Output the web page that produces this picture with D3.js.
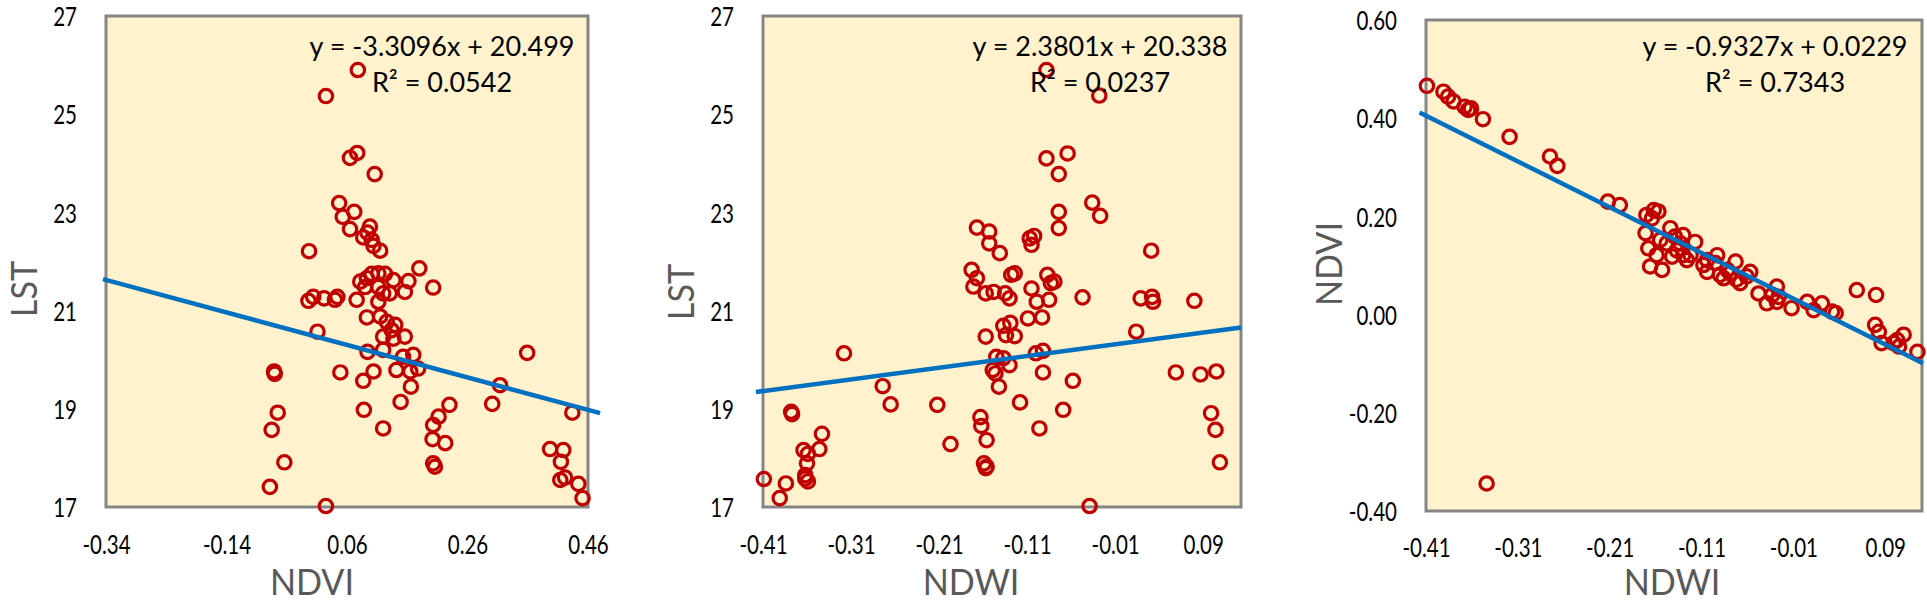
<!DOCTYPE html>
<html>
<head>
<meta charset="utf-8">
<script src="https://cdn.jsdelivr.net/npm/d3@7"></script>
<style>
  body { margin: 0; background: #fff; }
  svg { display: block; font-family: Lato, "Open Sans", sans-serif; }
</style>
</head>
<body>
<svg id="chart" width="1927" height="608"></svg>
<script>
// tick labels
const ndviTicks = [-0.34, -0.14, 0.06, 0.26, 0.46];
const ndwiTicks = [-0.41, -0.31, -0.21, -0.11, -0.01, 0.09];
const lstTicks = [17, 19, 21, 23, 25, 27];
const ndviYTicks = [-0.40, -0.20, 0.00, 0.20, 0.40, 0.60];

// [NDVI, LST]
const ndviLst = [
  [0.078, 25.90], [0.025, 25.37], [0.065, 24.11], [0.077, 24.21], [0.106, 23.78],
  [0.047, 23.19], [0.072, 23.01], [0.053, 22.91], [0.065, 22.66], [0.098, 22.71],
  [0.087, 22.49], [0.094, 22.59], [0.101, 22.44], [0.104, 22.32], [0.115, 22.22],
  [-0.003, 22.21], [0.180, 21.86], [0.203, 21.47], [0.082, 21.59], [0.093, 21.66],
  [0.101, 21.75], [0.112, 21.76], [0.123, 21.75], [0.137, 21.62], [0.162, 21.60],
  [0.156, 21.38], [0.090, 21.48], [0.112, 21.48], [0.120, 21.35], [0.131, 21.35],
  [0.112, 21.18], [0.076, 21.22], [-0.004, 21.20], [0.004, 21.28], [0.022, 21.25],
  [0.040, 21.22], [0.044, 21.28], [0.093, 20.86], [0.115, 20.88], [0.126, 20.77],
  [0.140, 20.71], [0.134, 20.60], [0.120, 20.47], [0.137, 20.43], [0.156, 20.47],
  [0.011, 20.57], [0.094, 20.16], [0.120, 20.20], [0.153, 20.06], [0.170, 20.10],
  [0.178, 19.82], [0.165, 19.76], [0.142, 19.79], [0.166, 19.45], [-0.061, 19.76],
  [-0.060, 19.71], [0.049, 19.74], [0.104, 19.76], [0.087, 19.57], [0.301, 19.10],
  [0.314, 19.48], [0.149, 19.14], [0.230, 19.08], [0.088, 18.98], [-0.055, 18.92],
  [-0.065, 18.57], [0.120, 18.60], [0.212, 18.84], [0.203, 18.67], [0.202, 18.38],
  [0.223, 18.30], [0.203, 17.89], [0.206, 17.82], [-0.044, 17.91], [-0.068, 17.41],
  [0.025, 17.02], [0.434, 18.92], [0.397, 18.18], [0.419, 18.16], [0.415, 17.92],
  [0.414, 17.55], [0.422, 17.60], [0.444, 17.47], [0.451, 17.18], [0.359, 20.14]
];

// [NDWI, LST]
const ndwiLst = [
  [-0.409, 17.57], [-0.391, 17.18], [-0.384, 17.48], [-0.378, 18.94], [-0.377, 18.89],
  [-0.364, 18.16], [-0.359, 18.08], [-0.360, 17.89], [-0.362, 17.65], [-0.359, 17.52],
  [-0.362, 17.58], [-0.346, 18.18], [-0.343, 18.49], [-0.318, 20.13], [-0.274, 19.46],
  [-0.265, 19.09], [-0.212, 19.08], [-0.197, 18.28], [-0.163, 18.83], [-0.162, 18.65],
  [-0.156, 18.36], [-0.159, 17.89], [-0.156, 17.82], [-0.157, 17.79], [-0.142, 19.45],
  [-0.157, 20.47], [-0.145, 20.06], [-0.137, 20.03], [-0.149, 19.79], [-0.146, 19.72],
  [-0.130, 19.89], [-0.137, 20.69], [-0.129, 20.75], [-0.134, 20.50], [-0.124, 20.48],
  [-0.109, 20.84], [-0.093, 20.86], [-0.100, 20.13], [-0.092, 20.18], [-0.092, 19.74],
  [-0.118, 19.13], [-0.096, 18.60], [-0.058, 19.57], [-0.069, 18.98], [-0.039, 17.02],
  [-0.047, 21.27], [0.014, 20.57], [0.019, 21.25], [0.032, 21.28], [0.033, 21.18],
  [0.080, 21.20], [0.059, 19.74], [0.087, 19.70], [0.105, 19.76], [0.099, 18.91],
  [0.104, 18.57], [0.109, 17.91], [-0.173, 21.83], [-0.167, 21.66], [-0.171, 21.49],
  [-0.157, 21.35], [-0.148, 21.38], [-0.135, 21.35], [-0.130, 21.25], [-0.128, 21.73],
  [-0.124, 21.76], [-0.105, 21.45], [-0.099, 21.18], [-0.085, 21.22], [-0.087, 21.73],
  [-0.079, 21.59], [-0.083, 21.56], [-0.088, 25.90], [-0.028, 25.38], [-0.088, 24.10],
  [-0.064, 24.20], [-0.074, 23.78], [-0.036, 23.20], [-0.027, 22.93], [-0.074, 23.01],
  [-0.074, 22.68], [0.031, 22.22], [-0.167, 22.69], [-0.153, 22.61], [-0.153, 22.37],
  [-0.141, 22.17], [-0.107, 22.47], [-0.102, 22.52], [-0.105, 22.34]
];

// [NDWI, NDVI]
const ndwiNdvi = [
  [-0.409, 0.466], [-0.391, 0.454], [-0.386, 0.444], [-0.380, 0.434], [-0.368, 0.423],
  [-0.364, 0.417], [-0.361, 0.420], [-0.348, 0.398], [-0.319, 0.362], [-0.275, 0.322],
  [-0.267, 0.303], [-0.212, 0.230], [-0.199, 0.223], [-0.344, -0.344],
  [-0.170, 0.203], [-0.162, 0.213], [-0.157, 0.210], [-0.164, 0.196], [-0.171, 0.166],
  [-0.168, 0.135], [-0.166, 0.098], [-0.153, 0.091], [-0.159, 0.121], [-0.144, 0.176],
  [-0.139, 0.159], [-0.130, 0.162], [-0.117, 0.148], [-0.148, 0.145], [-0.137, 0.131],
  [-0.130, 0.121], [-0.126, 0.111], [-0.142, 0.118], [-0.155, 0.152], [-0.133, 0.145],
  [-0.122, 0.121], [-0.104, 0.111], [-0.108, 0.101], [-0.104, 0.087], [-0.093, 0.121],
  [-0.090, 0.081], [-0.095, 0.105], [-0.082, 0.091], [-0.079, 0.084], [-0.073, 0.108],
  [-0.072, 0.071], [-0.068, 0.064], [-0.061, 0.078], [-0.057, 0.087], [-0.086, 0.074],
  [-0.048, 0.043], [-0.039, 0.023], [-0.028, 0.057], [-0.028, 0.026], [-0.033, 0.040],
  [-0.026, 0.036], [-0.012, 0.013], [0.005, 0.026], [0.012, 0.009], [0.021, 0.023],
  [0.032, 0.006], [0.036, 0.003], [0.059, 0.050], [0.080, 0.040], [0.079, -0.021],
  [0.083, -0.035], [0.086, -0.058], [0.099, -0.058], [0.103, -0.052], [0.110, -0.041],
  [0.105, -0.065], [0.125, -0.076]
];

// trend lines: slope, intercept, labels, x extent of the drawn line
const trendSlopes = [-3.3096, 2.3801, -0.9327];
const trendIntercepts = [20.499, 20.338, 0.0229];
const trendEquations = ['y = -3.3096x + 20.499', 'y = 2.3801x + 20.338', 'y = -0.9327x + 0.0229'];
const trendR2 = ['R\u00B2 = 0.0542', 'R\u00B2 = 0.0237', 'R\u00B2 = 0.7343'];
const trendExtents = [[-0.345, 0.48], [-0.418, 0.133], [-0.417, 0.131]];

const svg = d3.select('#chart');

class ScatterVis {
    constructor(_config, _data) {
        this.config = _config;
        this.data = _data;
        this.initVis();
    }

    initVis() {
        let vis = this;
        const c = vis.config;

        vis.xScale = d3.scaleLinear()
            .domain(c.xDomain)
            .range([c.left, c.right]);

        vis.yScale = d3.scaleLinear()
            .domain(c.yDomain)
            .range([c.bottom, c.top]);

        vis.chart = svg.append('g');

        vis.chart.append('rect')
            .attr('x', c.left)
            .attr('y', c.top)
            .attr('width', c.right - c.left)
            .attr('height', c.bottom - c.top)
            .attr('fill', '#fff2cc')
            .attr('stroke', '#858585')
            .attr('stroke-width', 3);

        vis.xAxis = d3.axisBottom(vis.xScale)
            .tickValues(c.xTicks)
            .tickSize(0)
            .tickFormat(c.xFormat);

        vis.yAxis = d3.axisLeft(vis.yScale)
            .tickValues(c.yTicks)
            .tickSize(0)
            .tickFormat(c.yFormat);

        vis.xAxisG = vis.chart.append('g')
            .attr('transform', `translate(0, ${c.bottom})`);
        vis.yAxisG = vis.chart.append('g')
            .attr('transform', `translate(${c.left}, 0)`);

        vis.renderVis();
    }

    renderVis() {
        let vis = this;
        const c = vis.config;

        vis.xAxisG.call(vis.xAxis)
            .call(g => g.select('.domain').remove())
            .attr('font-size', 27)
            .attr('font-family', null);
        vis.xAxisG.selectAll('text')
            .attr('fill', '#000')
            .attr('y', 0)
            .attr('dy', null)
            .attr('transform', `translate(0, ${c.xLabelDrop}) scale(0.76, 1)`);

        vis.yAxisG.call(vis.yAxis)
            .call(g => g.select('.domain').remove())
            .attr('font-size', 27)
            .attr('font-family', null);
        vis.yAxisG.selectAll('text')
            .attr('fill', '#000')
            .attr('x', 0)
            .attr('dy', '0.36em')
            .attr('transform', `translate(${-c.yLabelGap}, 0) scale(0.76, 1)`);

        vis.chart.append('g')
            .selectAll('circle')
            .data(vis.data)
            .join('circle')
            .attr('cx', d => vis.xScale(d[0]))
            .attr('cy', d => vis.yScale(d[1]))
            .attr('r', 6.7)
            .attr('fill', 'none')
            .attr('stroke', '#c00000')
            .attr('stroke-width', 3.2);

        const line = d3.line()
            .x(d => vis.xScale(d))
            .y(d => vis.yScale(c.slope * d + c.intercept));
        vis.chart.append('path')
            .datum(c.trendExtent)
            .attr('d', line)
            .attr('fill', 'none')
            .attr('stroke', '#0070c0')
            .attr('stroke-width', 4.5);

        // equation + R2
        vis.chart.append('text')
            .attr('x', c.eqX)
            .attr('y', 56)
            .attr('text-anchor', 'middle')
            .attr('font-size', 27)
            .text(c.equation);
        vis.chart.append('text')
            .attr('x', c.eqX)
            .attr('y', 92)
            .attr('text-anchor', 'middle')
            .attr('font-size', 27)
            .text(c.r2);

        // axis titles
        vis.chart.append('text')
            .attr('transform', `translate(${c.xTitleX}, 595) scale(0.95, 1)`)
            .attr('text-anchor', 'middle')
            .attr('font-size', 36)
            .attr('fill', '#595959')
            .text(c.xTitle);
        vis.chart.append('text')
            .attr('transform', `translate(${c.yTitleX}, ${c.yTitleY}) rotate(-90) scale(0.95, 1)`)
            .attr('text-anchor', 'middle')
            .attr('font-size', 36)
            .attr('fill', '#595959')
            .text(c.yTitle);
    }
}

const fmt2 = d => d.toFixed(2);
const fmt0 = d => d.toFixed(0);

new ScatterVis({
    left: 106, right: 588, top: 16, bottom: 507,
    xDomain: [-0.34, 0.46], yDomain: [17, 27],
    xTicks: ndviTicks, yTicks: lstTicks, xFormat: fmt2, yFormat: fmt0,
    xLabelDrop: 47, yLabelGap: 29,
    slope: trendSlopes[0], intercept: trendIntercepts[0], trendExtent: trendExtents[0],
    equation: trendEquations[0], r2: trendR2[0], eqX: 442,
    xTitle: 'NDVI', xTitleX: 312, yTitle: 'LST', yTitleX: 37, yTitleY: 289
}, ndviLst);

new ScatterVis({
    left: 763, right: 1241, top: 16, bottom: 507,
    xDomain: [-0.41, 0.133], yDomain: [17, 27],
    xTicks: ndwiTicks, yTicks: lstTicks, xFormat: fmt2, yFormat: fmt0,
    xLabelDrop: 47, yLabelGap: 29,
    slope: trendSlopes[1], intercept: trendIntercepts[1], trendExtent: trendExtents[1],
    equation: trendEquations[1], r2: trendR2[1], eqX: 1100,
    xTitle: 'NDWI', xTitleX: 971, yTitle: 'LST', yTitleX: 694, yTitleY: 292
}, ndwiLst);

new ScatterVis({
    left: 1426, right: 1922, top: 20, bottom: 511,
    xDomain: [-0.41, 0.130], yDomain: [-0.40, 0.60],
    xTicks: ndwiTicks, yTicks: ndviYTicks, xFormat: fmt2, yFormat: fmt2,
    xLabelDrop: 46, yLabelGap: 29,
    slope: trendSlopes[2], intercept: trendIntercepts[2], trendExtent: trendExtents[2],
    equation: trendEquations[2], r2: trendR2[2], eqX: 1775,
    xTitle: 'NDWI', xTitleX: 1672, yTitle: 'NDVI', yTitleX: 1342, yTitleY: 264
}, ndwiNdvi);
</script>
</body>
</html>
